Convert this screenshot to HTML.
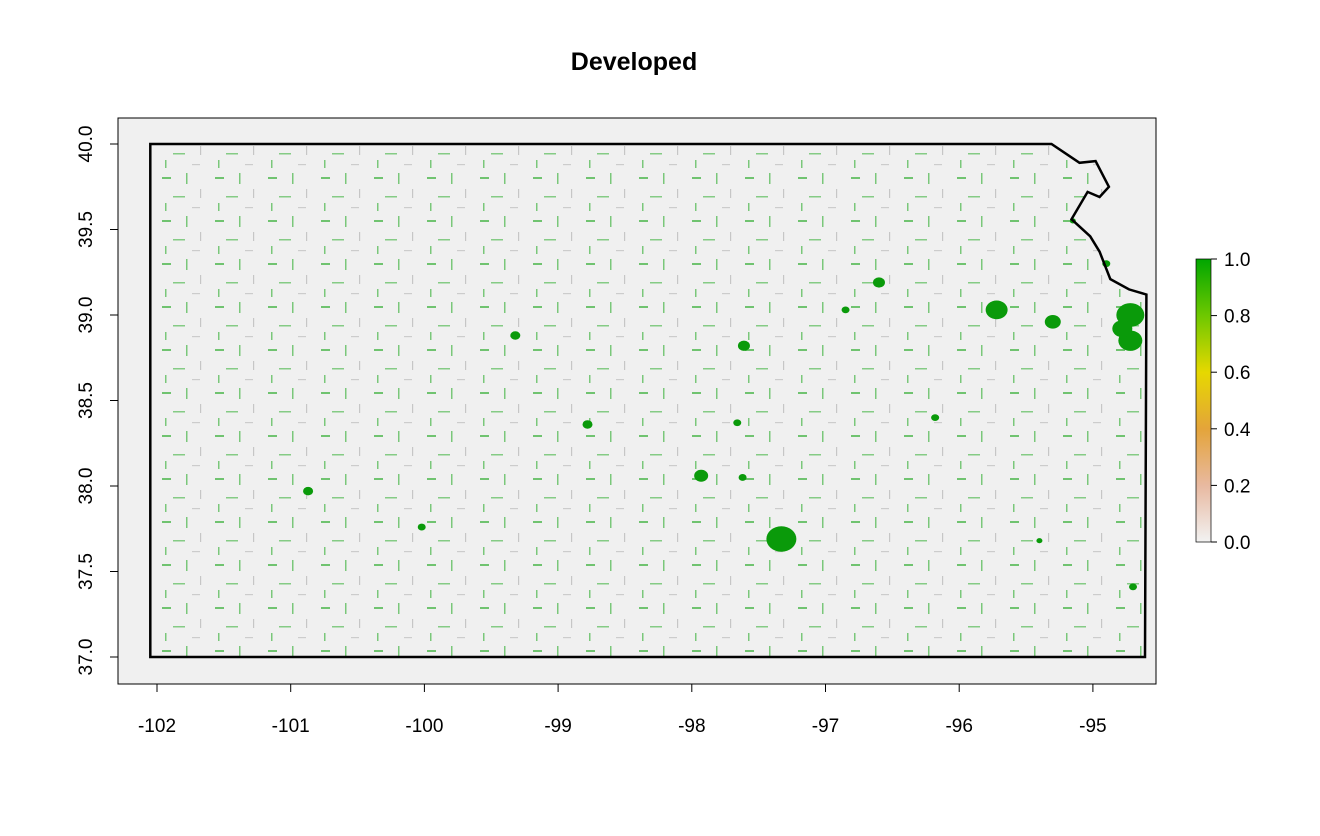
<!DOCTYPE html>
<html><head><meta charset="utf-8"><style>
body{margin:0;background:#fff;}
svg text{font-family:"Liberation Sans",Arial,sans-serif;}
</style></head><body>
<svg width="1320" height="831" viewBox="0 0 1320 831">
<defs>
<pattern id="tex" width="53" height="43" patternUnits="userSpaceOnUse">
<rect x="3" y="5" width="9" height="2" fill="#1aa51a" opacity="0.6"/>
<rect x="27" y="1" width="1.5" height="11" fill="#1aa51a" opacity="0.55"/>
<rect x="14" y="24" width="12" height="1.5" fill="#1aa51a" opacity="0.5"/>
<rect x="41" y="17" width="1.2" height="9" fill="#888" opacity="0.4"/>
<rect x="6" y="31" width="1.5" height="8" fill="#1aa51a" opacity="0.55"/>
<rect x="33" y="35" width="8" height="1.2" fill="#888" opacity="0.35"/>
</pattern>
<linearGradient id="lg" x1="0" y1="1" x2="0" y2="0">
<stop offset="0" stop-color="#f2f2f2"/><stop offset="0.2" stop-color="#e8b9a0"/>
<stop offset="0.4" stop-color="#e4a43a"/><stop offset="0.6" stop-color="#e6d800"/>
<stop offset="0.8" stop-color="#6ec800"/><stop offset="1" stop-color="#00a600"/>
</linearGradient>
<clipPath id="ks"><polygon id="kspoly" points=""/></clipPath>
</defs>
<text x="634" y="70" text-anchor="middle" font-size="25" font-weight="bold">Developed</text>
<rect x="118" y="118" width="1038" height="566" fill="#f0f0f0" stroke="#000" stroke-width="1"/>
<g clip-path="url(#ks)"><rect x="118" y="118" width="1038" height="566" fill="url(#tex)"/></g>
<g id="cities"></g>
<polygon id="outline" points="" fill="none" stroke="#000" stroke-width="2.5"/>
<g id="xaxis"></g>
<g id="yaxis"></g>
<rect x="1196" y="259" width="15" height="283" fill="url(#lg)" stroke="#000" stroke-width="0.7"/>
<g id="legend"></g>
</svg>
<script>
const xTicks=[-102,-101,-100,-99,-98,-97,-96,-95];
const yTicks=[37.0,37.5,38.0,38.5,39.0,39.5,40.0];
const legendTicks=[0,0.2,0.4,0.6,0.8,1.0];
const cityLon=[-94.72,-94.72,-94.78,-95.72,-95.3,-97.33,-96.6,-97.61,-97.93,-96.18,-99.32,-100.87,-100.02,-98.78,-96.85,-97.66,-97.62,-94.9,-95.4,-94.7,-95.15];
const cityLat=[39.0,38.85,38.92,39.03,38.96,37.69,39.19,38.82,38.06,38.40,38.88,37.97,37.76,38.36,39.03,38.37,38.05,39.3,37.68,37.41,39.55];
const cityR=[14,12,10,11,8,15,6,6,7,4,5,5,4,5,4,4,4,4,3,4,3];
const bLon=[-102.05,-95.31,-95.1,-94.98,-94.88,-94.95,-95.04,-95.16,-95.02,-94.95,-94.87,-94.73,-94.6,-94.61,-102.05];
const bLat=[40.0,40.0,39.89,39.9,39.75,39.69,39.72,39.56,39.46,39.37,39.21,39.15,39.12,37.0,37.0];
const X=v=>157+(v+102)*133.7, Y=v=>657-(v-37)*171;
const NS="http://www.w3.org/2000/svg";
const pts=bLon.map((v,i)=>X(v).toFixed(1)+","+Y(bLat[i]).toFixed(1)).join(" ");
document.getElementById('outline').setAttribute('points',pts);
document.getElementById('kspoly').setAttribute('points',pts);
const cg=document.getElementById('cities');
cityLon.forEach((v,i)=>{const c=document.createElementNS(NS,'ellipse');
c.setAttribute('cx',X(v));c.setAttribute('cy',Y(cityLat[i]));c.setAttribute('rx',cityR[i]);c.setAttribute('ry',cityR[i]*0.85);c.setAttribute('fill','#0a9a0a');


cg.appendChild(c);});
const xg=document.getElementById('xaxis');
let l=document.createElementNS(NS,'line');l.setAttribute('x1',X(-102));l.setAttribute('x2',X(-95));l.setAttribute('y1',684);l.setAttribute('y2',684);l.setAttribute('stroke','#000');xg.appendChild(l);
xTicks.forEach(t=>{const k=document.createElementNS(NS,'line');k.setAttribute('x1',X(t));k.setAttribute('x2',X(t));k.setAttribute('y1',684);k.setAttribute('y2',692);k.setAttribute('stroke','#000');xg.appendChild(k);
const s=document.createElementNS(NS,'text');s.setAttribute('x',X(t));s.setAttribute('y',732);s.setAttribute('text-anchor','middle');s.setAttribute('font-size','19');s.textContent=t;


xg.appendChild(s);});
const yg=document.getElementById('yaxis');
l=document.createElementNS(NS,'line');l.setAttribute('x1',118);l.setAttribute('x2',118);l.setAttribute('y1',Y(37));l.setAttribute('y2',Y(40));l.setAttribute('stroke','#000');yg.appendChild(l);
yTicks.forEach(t=>{const k=document.createElementNS(NS,'line');k.setAttribute('x1',110);k.setAttribute('x2',118);k.setAttribute('y1',Y(t));k.setAttribute('y2',Y(t));k.setAttribute('stroke','#000');yg.appendChild(k);
const s=document.createElementNS(NS,'text');s.setAttribute('transform',`translate(92,${Y(t)}) rotate(-90)`);s.setAttribute('text-anchor','middle');s.setAttribute('font-size','19');s.textContent=t.toFixed(1);


yg.appendChild(s);});
const lgG=document.getElementById('legend');
legendTicks.forEach(t=>{const y=542-t*283;const k=document.createElementNS(NS,'line');k.setAttribute('x1',1211);k.setAttribute('x2',1217);k.setAttribute('y1',y);k.setAttribute('y2',y);k.setAttribute('stroke','#000');lgG.appendChild(k);
const s=document.createElementNS(NS,'text');s.setAttribute('x',1224);s.setAttribute('y',y+7);s.setAttribute('font-size','19');s.textContent=t.toFixed(1);


lgG.appendChild(s);});
</script>
</body></html>
